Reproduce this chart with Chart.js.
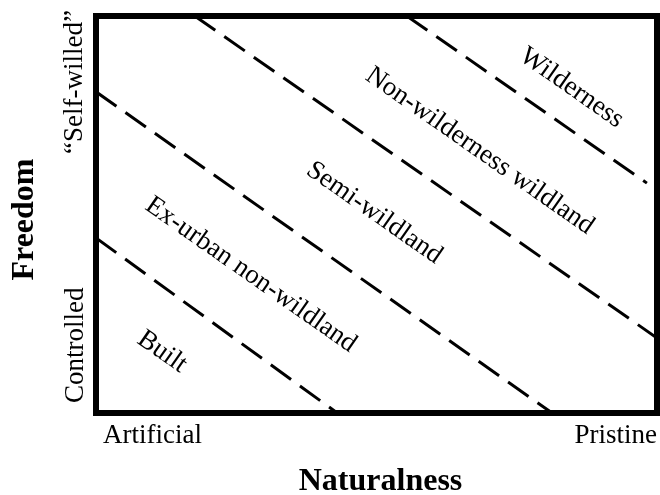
<!DOCTYPE html>
<html lang="en">
<head>
    <meta charset="UTF-8">
    <title>Naturalness and Freedom</title>
    <script src="https://cdn.jsdelivr.net/npm/chart.js"></script>
    <style>
        body {
            margin: 0;
            padding: 0;
            background: white;
        }
        #wrap {
            width: 660px;
            height: 495px;
        }
    </style>
</head>
<body>

<div id="wrap"><canvas id="zoneChart"></canvas></div>

<script>
    // dashed boundaries between zones (0..100 on both axes)
    const lineStartX = [0, 0, 17.6, 55.4];
    const lineStartY = [44.1, 80.9, 100, 100];
    const lineEndX = [43.0, 81.3, 100, 98.2];
    const lineEndY = [0, 0, 18.9, 57.9];

    // zone names and where they sit
    const zoneNames = ['Built', 'Ex-urban non-wildland', 'Semi-wildland', 'Non-wilderness wildland', 'Wilderness'];
    const zoneX = [11.8, 27.6, 49.6, 68.4, 84.8];
    const zoneY = [15.4, 34.8, 50.4, 66.0, 81.9];

    const xTickLabels = ['Artificial', 'Pristine'];
    const yTickLabels = ['Controlled', '\u201CSelf-willed\u201D'];
    const xTitle = 'Naturalness';
    const yTitle = 'Freedom';

    const serif = '"Liberation Serif", "DejaVu Serif", serif';

    const datasets = lineStartX.map((x0, i) => ({
        data: [{ x: x0, y: lineStartY[i] }, { x: lineEndX[i], y: lineEndY[i] }],
        showLine: true,
        borderColor: 'black',
        borderWidth: 3,
        borderDash: [25, 11],
        pointRadius: 0,
        fill: false
    }));

    const diagramText = {
        id: 'diagramText',
        afterDraw(chart) {
            const { ctx, chartArea: a, scales } = chart;
            ctx.save();
            ctx.fillStyle = 'black';

            // zone labels, tilted like the boundaries
            ctx.font = '27px ' + serif;
            ctx.textAlign = 'center';
            ctx.textBaseline = 'middle';
            zoneNames.forEach((name, i) => {
                ctx.save();
                ctx.translate(scales.x.getPixelForValue(zoneX[i]), scales.y.getPixelForValue(zoneY[i]));
                ctx.rotate(35 * Math.PI / 180);
                ctx.fillText(name, 0, 0);
                ctx.restore();
            });

            // frame
            ctx.strokeStyle = 'black';
            ctx.lineWidth = 6;
            ctx.strokeRect(a.left, a.top, a.right - a.left, a.bottom - a.top);

            // x end labels
            ctx.textBaseline = 'alphabetic';
            ctx.textAlign = 'left';
            ctx.fillText(xTickLabels[0], a.left + 7, a.bottom + 30);
            ctx.textAlign = 'right';
            ctx.fillText(xTickLabels[1], a.right, a.bottom + 30);

            // y end labels
            ctx.save();
            ctx.translate(a.left - 13, a.bottom - 10);
            ctx.rotate(-Math.PI / 2);
            ctx.textAlign = 'left';
            ctx.fillText(yTickLabels[0], 0, 0);
            ctx.restore();

            ctx.save();
            ctx.translate(a.left - 14, a.top - 6);
            ctx.rotate(-Math.PI / 2);
            ctx.textAlign = 'right';
            ctx.fillText(yTickLabels[1], 0, 0);
            ctx.restore();

            // axis titles
            ctx.font = 'bold 32px ' + serif;
            ctx.textAlign = 'center';
            ctx.fillText(xTitle, (a.left + a.right) / 2 + 4, a.bottom + 77);

            ctx.save();
            ctx.translate(33, (a.top + a.bottom) / 2 + 5);
            ctx.rotate(-Math.PI / 2);
            ctx.fillText(yTitle, 0, 0);
            ctx.restore();

            ctx.restore();
        }
    };

    new Chart(document.getElementById('zoneChart'), {
        type: 'scatter',
        data: { datasets: datasets },
        options: {
            responsive: true,
            maintainAspectRatio: false,
            animation: false,
            layout: {
                padding: { left: 96, right: 3, top: 16, bottom: 82 }
            },
            scales: {
                x: { type: 'linear', min: 0, max: 100, display: false },
                y: { type: 'linear', min: 0, max: 100, display: false }
            },
            plugins: {
                legend: { display: false },
                tooltip: { enabled: false }
            }
        },
        plugins: [diagramText]
    });
</script>

</body>
</html>
